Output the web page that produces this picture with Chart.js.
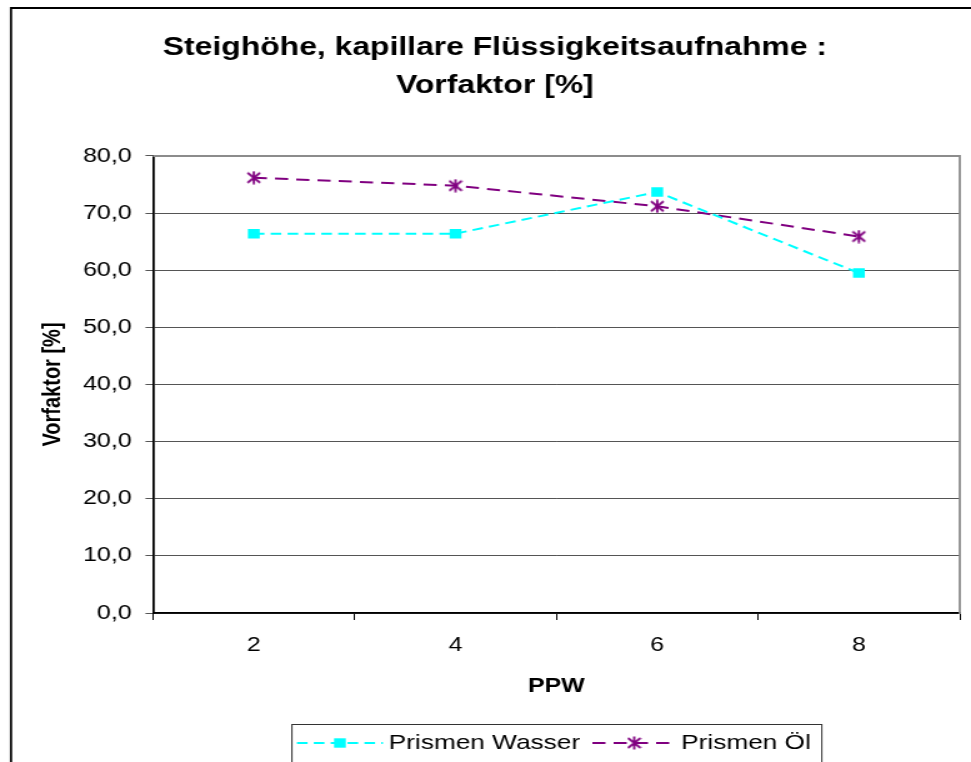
<!DOCTYPE html>
<html>
<head>
<meta charset="utf-8">
<script src="https://cdn.jsdelivr.net/npm/chart.js@4/dist/chart.umd.min.js"></script>
<style>
  html, body { margin: 0; padding: 0; background: #fff; overflow: hidden; }
  /* the reference is stretched sideways, so the chart is drawn narrow and scaled */
  #wrap { width: 777px; height: 762px; transform: scale(1.2497, 1); transform-origin: 0 0; }
</style>
</head>
<body>
<div id="wrap"><canvas id="c" width="777" height="762"></canvas></div>
<script>
const categories = ['2', '4', '6', '8'];
const wasser = [66.4, 66.4, 73.7, 59.5];
const oel = [76.2, 74.8, 71.2, 65.9];
const yMin = 0, yMax = 80, yStep = 10;

const titleLines = ['Steighöhe, kapillare Flüssigkeitsaufnahme :', 'Vorfaktor [%]'];
const xTitle = 'PPW';
const yTitle = 'Vorfaktor [%]';
const FONT = '"Liberation Sans", Arial, sans-serif';

// excel style asterisk marker
function starMarker(color) {
  const c = document.createElement('canvas');
  c.width = 12; c.height = 14;
  const g = c.getContext('2d');
  g.strokeStyle = color;
  g.lineWidth = 1.8;
  g.beginPath();
  g.moveTo(1, 2); g.lineTo(11, 12);
  g.moveTo(11, 2); g.lineTo(1, 12);
  g.moveTo(6, 0.5); g.lineTo(6, 13.5);
  g.stroke();
  return c;
}
const star = starMarker('#800080');

const frame = {
  id: 'frame',
  beforeDraw(chart) {
    const ctx = chart.ctx;
    ctx.save();
    ctx.fillStyle = '#fff';
    ctx.fillRect(0, 0, chart.width, chart.height);
    ctx.strokeStyle = '#000';
    ctx.lineWidth = 1.8;
    ctx.beginPath();
    ctx.moveTo(8.8, chart.height + 5);
    ctx.lineTo(8.8, 8);
    ctx.lineTo(chart.width + 5, 8);
    ctx.stroke();
    ctx.restore();
  },
  beforeDatasetsDraw(chart) {
    const { ctx, chartArea: a } = chart;
    ctx.save();
    ctx.strokeStyle = '#8c8c8c';
    ctx.lineWidth = 1.8;
    ctx.beginPath();
    ctx.moveTo(a.left, a.top);
    ctx.lineTo(a.right, a.top);
    ctx.lineTo(a.right, a.bottom + 1);
    ctx.stroke();
    ctx.restore();
  },
  afterDraw(chart) {
    const ctx = chart.ctx;
    ctx.save();
    ctx.strokeStyle = '#333';
    ctx.lineWidth = 1;
    ctx.strokeRect(233.6, 724.5, 424, 60);
    ctx.font = '21px ' + FONT;
    ctx.textBaseline = 'middle';
    ctx.fillStyle = '#000';
    const items = [
      { x0: 237.6, x1: 306.4, tx: 311 },
      { x0: 474, x1: 541, tx: 545 }
    ];
    chart.data.datasets.forEach((ds, i) => {
      const it = items[i];
      const y = 743;
      ctx.strokeStyle = ds.borderColor;
      ctx.lineWidth = ds.borderWidth;
      ctx.setLineDash(ds.borderDash);
      ctx.beginPath();
      ctx.moveTo(it.x0, y);
      ctx.lineTo(it.x1, y);
      ctx.stroke();
      ctx.setLineDash([]);
      const mx = (it.x0 + it.x1) / 2;
      if (ds.pointStyle === 'rect') {
        ctx.fillStyle = ds.pointBackgroundColor;
        ctx.fillRect(mx - 4.7, y - 4.7, 9.4, 9.4);
      } else {
        ctx.drawImage(ds.pointStyle, mx - 6, y - 7);
      }
      ctx.fillStyle = '#000';
      ctx.fillText(ds.label, it.tx, y);
    });
    ctx.restore();
  }
};

new Chart(document.getElementById('c'), {
  type: 'line',
  data: {
    labels: categories,
    datasets: [
      {
        label: 'Prismen Wasser',
        data: wasser,
        borderColor: '#00ffff',
        borderWidth: 2,
        borderDash: [8.5, 5],
        pointStyle: 'rect',
        pointRadius: 6.7,
        pointBackgroundColor: '#00ffff',
        pointBorderColor: '#00ffff',
        pointBorderWidth: 0,
        tension: 0
      },
      {
        label: 'Prismen Öl',
        data: oel,
        borderColor: '#800080',
        borderWidth: 2,
        borderDash: [10.5, 6.5],
        pointStyle: star,
        pointRadius: 7,
        tension: 0
      }
    ]
  },
  plugins: [frame],
  options: {
    responsive: false,
    animation: false,
    events: [],
    layout: { padding: { left: 22, right: 7, top: 20, bottom: 59 } },
    plugins: {
      legend: { display: false },
      tooltip: { enabled: false },
      title: {
        display: true,
        text: titleLines,
        color: '#000',
        font: { family: FONT, size: 25.5, weight: 'bold', lineHeight: 1.49 },
        padding: { top: 9, bottom: 51 }
      }
    },
    scales: {
      x: {
        type: 'category',
        offset: true,
        grid: { offset: true, drawOnChartArea: false, drawTicks: true, tickLength: 7, color: '#000' },
        border: { color: '#000', width: 1.8 },
        ticks: { color: '#000', font: { family: FONT, size: 20 }, padding: 13, maxRotation: 0 },
        title: { display: true, text: xTitle, color: '#000', font: { family: FONT, size: 20, weight: 'bold' }, padding: { top: 0, bottom: 5 } },
        afterFit(scale) { scale.height = 90; }
      },
      y: {
        min: yMin,
        max: yMax,
        grid: { color: '#555', lineWidth: 1, tickLength: 6, drawTicks: true },
        border: { color: '#000', width: 1.8 },
        ticks: {
          stepSize: yStep,
          color: '#000',
          font: { family: FONT, size: 20 },
          padding: 11,
          callback: (v) => v.toFixed(1).replace('.', ',')
        },
        title: { display: true, text: yTitle, color: '#000', font: { family: FONT, size: 20, weight: 'bold' }, padding: { top: 8, bottom: 0 } },
        afterFit(scale) { scale.width = 100.4; }
      }
    }
  }
});
</script>
</body>
</html>
